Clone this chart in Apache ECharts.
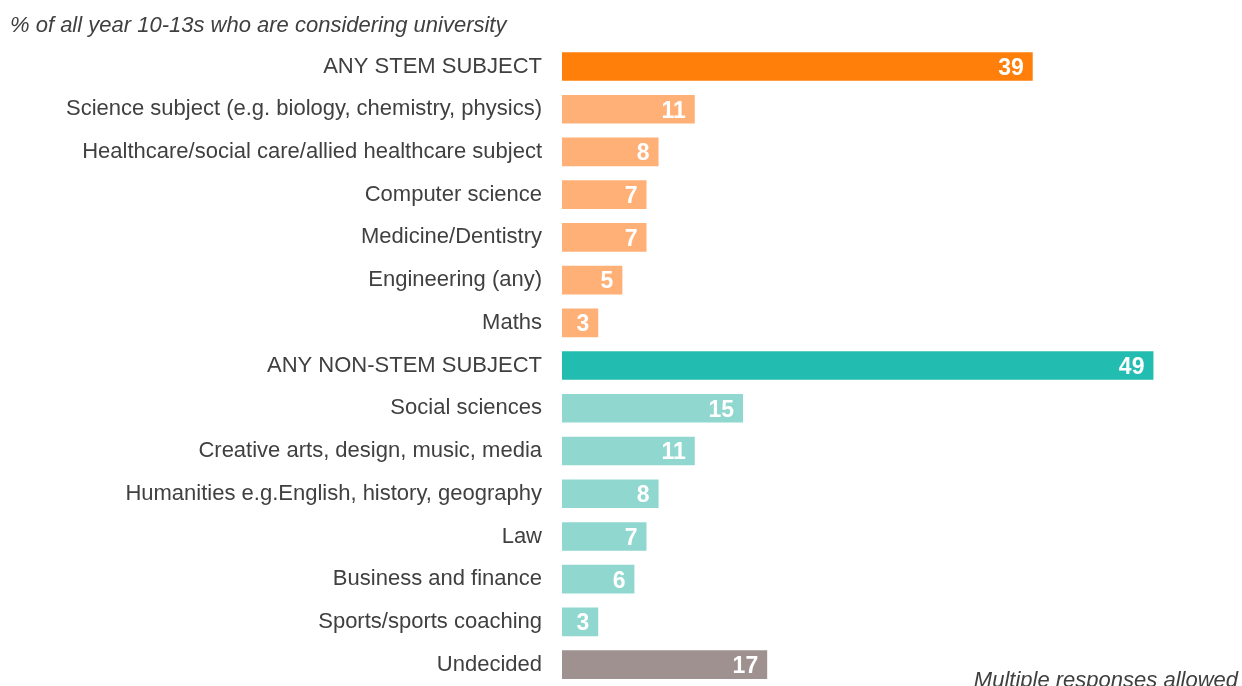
<!DOCTYPE html>
<html>
<head>
<meta charset="utf-8">
<script src="https://cdn.jsdelivr.net/npm/echarts@6/dist/echarts.min.js"></script>
<style>
html,body{margin:0;padding:0;background:#fff;}
#chart{width:1242px;height:686px;}
</style>
</head>
<body>
<div id="chart"></div>
<script>
const categories = [
  "ANY STEM SUBJECT",
  "Science subject (e.g. biology, chemistry, physics)",
  "Healthcare/social care/allied healthcare subject",
  "Computer science",
  "Medicine/Dentistry",
  "Engineering (any)",
  "Maths",
  "ANY NON-STEM SUBJECT",
  "Social sciences",
  "Creative arts, design, music, media",
  "Humanities e.g.English, history, geography",
  "Law",
  "Business and finance",
  "Sports/sports coaching",
  "Undecided"
];
const values = [39, 11, 8, 7, 7, 5, 3, 49, 15, 11, 8, 7, 6, 3, 17];
const groups = ["stemTotal","stem","stem","stem","stem","stem","stem","nonTotal","non","non","non","non","non","non","undecided"];
const groupColors = {
  stemTotal: "#FF7F0A",
  stem: "#FFB077",
  nonTotal: "#22BCB0",
  non: "#8FD7CF",
  undecided: "#9E9190"
};
const titleText = "% of all year 10-13s who are considering university";
const noteText = "Multiple responses allowed";
const FONT = "'Liberation Sans', Arial, sans-serif";

const chart = echarts.init(document.getElementById('chart'), null, {renderer: 'canvas'});
chart.setOption({
  animation: false,
  backgroundColor: '#ffffff',
  textStyle: {fontFamily: FONT},
  title: [{
    text: titleText,
    left: 10, top: 15, padding: 0,
    textStyle: {fontSize: 22, fontStyle: 'italic', fontWeight: 'normal', color: '#404040', fontFamily: FONT}
  }, {
    text: noteText,
    right: 4, top: 670, padding: 0,
    textStyle: {fontSize: 22, fontStyle: 'italic', fontWeight: 'normal', color: '#404040', fontFamily: FONT}
  }],
  grid: {left: 562, right: 76.5, top: 45.1, bottom: -0.9, containLabel: false},
  xAxis: {
    type: 'value', min: 0, max: 50,
    show: false
  },
  yAxis: {
    type: 'category',
    data: categories,
    inverse: true,
    axisLine: {show: false},
    axisTick: {show: false},
    splitLine: {show: false},
    axisLabel: {
      fontSize: 22, color: '#404040', margin: 20,
      padding: [3, 0, 0, 0],
      fontFamily: FONT
    }
  },
  series: [{
    type: 'bar',
    barCategoryGap: '33%',
    data: values.map((v, i) => ({value: v, itemStyle: {color: groupColors[groups[i]]}})),
    label: {
      show: true,
      position: 'insideRight',
      distance: 9,
      color: '#ffffff',
      fontWeight: 'bold',
      fontSize: 23,
      fontFamily: FONT,
      offset: [0, 2]
    }
  }]
});
</script>
</body>
</html>
